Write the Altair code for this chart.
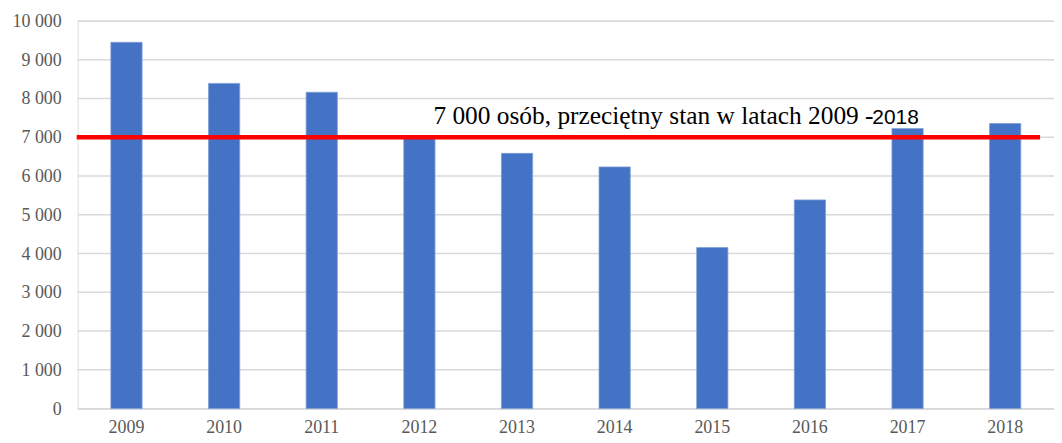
import altair as alt
import pandas as pd

years = ["2009", "2010", "2011", "2012", "2013", "2014", "2015", "2016", "2017", "2018"]
values = [9450, 8390, 8160, 6980, 6585, 6235, 4155, 5385, 7225, 7355]
average = 7000
label_main = "7 000 osób, przeciętny stan w latach 2009 -"
label_tail = "2018"
y_ticks = [0, 1000, 2000, 3000, 4000, 5000, 6000, 7000, 8000, 9000, 10000]
y_tick_labels = ["0", "1 000", "2 000", "3 000", "4 000", "5 000",
                 "6 000", "7 000", "8 000", "9 000", "10 000"]

df = pd.DataFrame({"rok": years, "osoby": values})
ann = pd.DataFrame({"rok": ["2013"], "osoby": [average]})
ticks_df = pd.DataFrame({"osoby": y_ticks, "etykieta": y_tick_labels})

x_enc = alt.X(
    "rok:N",
    sort=years,
    scale=alt.Scale(paddingInner=0.68, paddingOuter=0.34),
    axis=alt.Axis(
        title=None, labelAngle=0, ticks=False, domain=True, domainColor="#d9d9d9",
        domainWidth=1.5, labelPadding=10, labelFont="Liberation Serif",
        labelFontSize=18, labelColor="#595959", grid=False, labelOverlap=False,
    ),
)
y_enc = alt.Y(
    "osoby:Q",
    scale=alt.Scale(domain=[0, 10000], nice=False, zero=True),
    axis=None,
)

grid = alt.Chart(ticks_df).mark_rule(color="#d9d9d9", strokeWidth=1.5).encode(y=y_enc)
ylabels = alt.Chart(ticks_df).mark_text(
    align="right", baseline="middle", font="Liberation Serif", fontSize=18,
    color="#595959", dy=1,
).encode(x=alt.value(-16), y=y_enc, text="etykieta:N")

bars = alt.Chart(df).mark_bar(color="#4472C4", stroke="#7f9fd8", strokeWidth=0.8).encode(x=x_enc, y=y_enc)

ann_base = alt.Chart(ann)
rule = ann_base.mark_rule(color="#ff0000", strokeWidth=4.5).encode(
    x=alt.value(-1), x2=alt.value(967), y=y_enc
)

text_main = ann_base.mark_text(
    text=label_main, align="left", baseline="alphabetic", font="Liberation Serif",
    fontSize=25.5, color="#000000", dx=-84, dy=-13,
).encode(x=x_enc, y=y_enc)

text_tail = ann_base.mark_text(
    text=label_tail, align="left", baseline="alphabetic", font="Liberation Sans",
    fontSize=21, color="#000000", dx=357, dy=-13,
).encode(x=x_enc, y=y_enc)

chart = (
    alt.layer(grid, ylabels, bars, rule, text_main, text_tail)
    .properties(width=981, height=389.5, autosize=alt.AutoSizeParams(type="none"),
                padding={"left": 70, "top": 12, "right": 0, "bottom": 33})
    .configure_view(stroke=None)
    .configure(background="#ffffff")
)

chart.save("out.html", embed_options={"renderer": "svg", "actions": False})
